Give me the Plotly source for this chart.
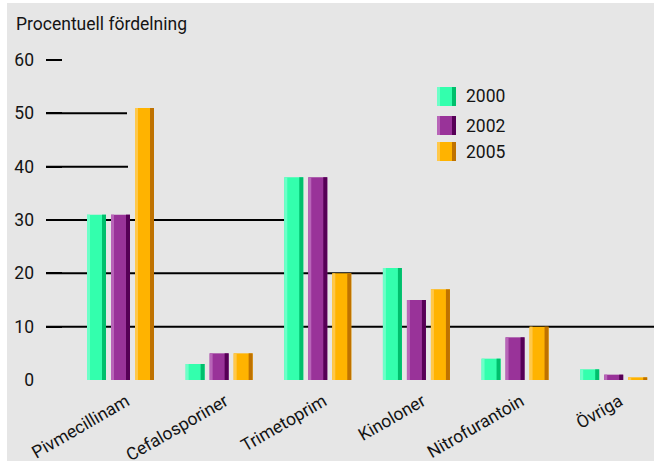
import plotly.graph_objects as go

# --- data -------------------------------------------------------------
categories = ["Pivmecillinam", "Cefalosporiner", "Trimetoprim",
              "Kinoloner", "Nitrofurantoin", "Övriga"]
years = ["2000", "2002", "2005"]
v2000 = [31, 3, 38, 21, 4, 2]
v2002 = [31, 5, 38, 15, 8, 1]
v2005 = [51, 5, 20, 17, 10, 0.5]
y_ticks = [0, 10, 20, 30, 40, 50, 60]

# --- styling ----------------------------------------------------------
FONT = "Roboto"
FS = 17.5
TXT = "#141414"
BG = "#e6e6e6"
palette = {  # (light edge, face, shaded side)
    "2000": ("#6dffc8", "#33ffad", "#00bf6c"),
    "2002": ("#b865b8", "#993399", "#560056"),
    "2005": ("#ffc84a", "#ffb300", "#bf7200"),
}

W, H = 654, 461
L, R_EDGE = 46, 654          # plot area, pixels
TOP, BOT = 40, 380
PX_PER_CAT = 98.64
first_center_px = 120.5
x0 = -(first_center_px - L) / PX_PER_CAT
x1 = x0 + (R_EDGE - L) / PX_PER_CAT
y_max = 60 * (BOT - TOP) / (BOT - 60)

def px_w(p):                 # pixel width -> category units
    return p / PX_PER_CAT

slot = px_w(24)
bar_w = px_w(19)
light_w = px_w(3)
dark_w = px_w(4)

def paper(px, py):
    return (px - L) / (R_EDGE - L), (BOT - py) / (BOT - TOP)

xs = list(range(len(categories)))
series = [("2000", v2000), ("2002", v2002), ("2005", v2005)]

fig = go.Figure()
for k, (yr, vals) in enumerate(series):
    light, face, dark = palette[yr]
    left = (k - 1) * slot - bar_w / 2
    for off, w, col in [(left, bar_w, face),
                        (left, light_w, light),
                        (left + bar_w - dark_w, dark_w, dark)]:
        fig.add_trace(go.Bar(x=xs, y=vals, offset=off, width=w,
                             marker=dict(color=col, line=dict(width=0)),
                             showlegend=False, hoverinfo="skip"))

# horizontal rules behind the bars
first_left = -slot - bar_w / 2
grid_end = {
    50: 0 + (slot - bar_w / 2) - px_w(8),
    40: 0 + (slot - bar_w / 2) - px_w(7),
    30: 2 + first_left,
    20: 3 + first_left,
    10: x1,
}
shapes = []
for lvl, xe in grid_end.items():
    shapes.append(dict(type="line", xref="x", yref="y", x0=x0, x1=xe,
                       y0=lvl, y1=lvl, layer="below",
                       line=dict(color="black", width=2)))

# white frame strips on the left and top
shapes.append(dict(type="rect", xref="paper", yref="paper",
                   x0=paper(-5, 0)[0], x1=paper(7, 0)[0],
                   y0=paper(0, H + 5)[1], y1=paper(0, -5)[1],
                   fillcolor="white", line=dict(width=0), layer="below"))
shapes.append(dict(type="rect", xref="paper", yref="paper",
                   x0=paper(-5, 0)[0], x1=paper(W + 5, 0)[0],
                   y0=paper(0, 3)[1], y1=paper(0, -5)[1],
                   fillcolor="white", line=dict(width=0), layer="below"))

# legend swatches
annotations = []
legend_rows = [87, 116, 142]
for yr, top in zip(years, legend_rows):
    light, face, dark = palette[yr]
    for a, b, col in [(437, 456, face), (437, 440, light), (452, 456, dark)]:
        xa, ya = paper(a, top + 19)
        xb, yb = paper(b, top)
        shapes.append(dict(type="rect", xref="paper", yref="paper",
                           x0=xa, x1=xb, y0=ya, y1=yb,
                           fillcolor=col, line=dict(width=0)))
    tx, ty = paper(464, top + 9.5)
    annotations.append(dict(text=yr, xref="paper", yref="paper", x=tx, y=ty,
                            xanchor="left", yanchor="middle", showarrow=False,
                            font=dict(family=FONT, size=FS, color=TXT)))

tx, ty = paper(14, 24)
annotations.append(dict(text="Procentuell fördelning", xref="paper",
                        yref="paper", x=tx, y=ty, xanchor="left",
                        yanchor="middle", showarrow=False,
                        font=dict(family=FONT, size=FS, color=TXT)))

fig.update_layout(
    width=W, height=H,
    margin=dict(l=L, r=W - R_EDGE, t=TOP, b=H - BOT, pad=0),
    paper_bgcolor=BG, plot_bgcolor=BG,
    barmode="overlay",
    showlegend=False,
    shapes=shapes,
    annotations=annotations,
    xaxis=dict(range=[x0, x1], tickvals=[x + px_w(6) for x in xs],
               ticktext=categories, automargin=False,
               tickangle=-30, showgrid=False, zeroline=False,
               showline=False, ticks="", ticklabelstandoff=7,
               tickfont=dict(family=FONT, size=FS, color=TXT)),
    yaxis=dict(range=[0, y_max], tickvals=y_ticks, showgrid=False,
               zeroline=False, showline=False, automargin=False,
               ticks="inside", ticklen=16, tickwidth=2, tickcolor="black",
               ticklabelstandoff=11,
               tickfont=dict(family=FONT, size=FS, color=TXT)),
)

fig.write_html("out.html")
